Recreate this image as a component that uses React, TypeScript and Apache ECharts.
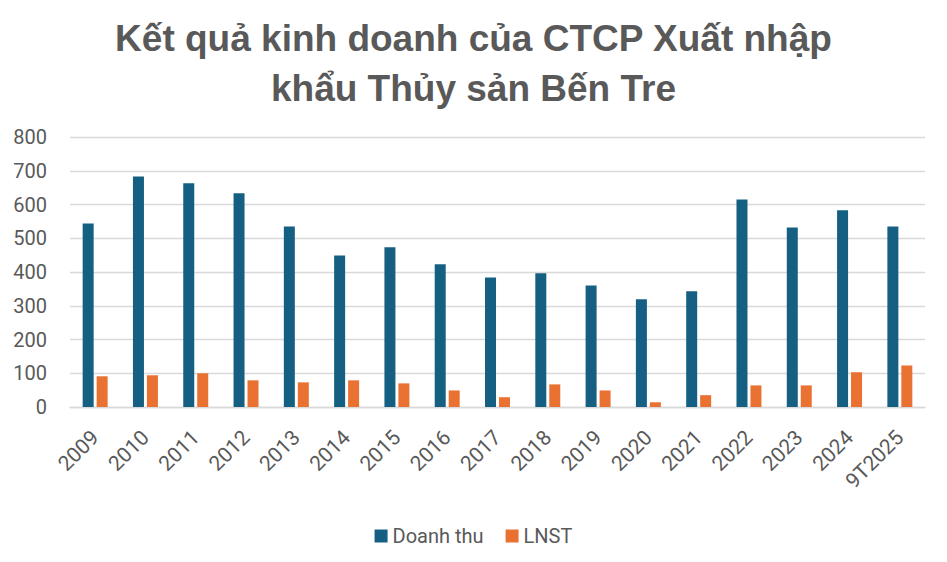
import React, { useEffect, useRef } from "react";
import * as echarts from "echarts";

const categories = ["2009","2010","2011","2012","2013","2014","2015","2016","2017","2018","2019","2020","2021","2022","2023","2024","9T2025"];
const doanhThu = [544, 683, 663, 633, 535, 449, 473, 423, 384, 396, 360, 319, 343, 615, 532, 583, 535];
const lnst = [91, 94, 100, 79, 73, 79, 70, 49, 29, 67, 49, 14, 35, 64, 64, 103, 123];
const titleText = "Kết quả kinh doanh của CTCP Xuất nhập\nkhẩu Thủy sản Bến Tre";

export default function App() {
  const ref = useRef<HTMLDivElement>(null);
  useEffect(() => {
    const chart = echarts.init(ref.current!, null, { renderer: "svg" });
    chart.setOption({
      animation: false,
      backgroundColor: "#ffffff",
      title: {
        text: titleText,
        left: "center",
        top: 13,
        padding: 0,
        textStyle: {
          fontFamily: "Liberation Sans",
          fontWeight: "bold",
          fontSize: 37,
          lineHeight: 50,
          color: "#595959",
        },
      },
      legend: {
        top: 521,
        left: "center",
        itemWidth: 13,
        itemHeight: 13,
        itemGap: 22,
        icon: "rect",
        textStyle: { fontFamily: "Roboto", fontSize: 20, color: "#595959" },
        data: ["Doanh thu", "LNST"],
      },
      grid: { left: 70, right: 22, top: 137, bottom: 155, containLabel: false },
      xAxis: {
        type: "category",
        data: categories,
        axisLine: { show: true, lineStyle: { color: "#d9d9d9", width: 1.3 } },
        axisTick: { show: false },
        axisLabel: {
          rotate: 45,
          margin: 27,
          interval: 0,
          fontFamily: "Roboto",
          fontSize: 21,
          color: "#595959",
        },
      },
      yAxis: {
        type: "value",
        min: 0,
        max: 800,
        interval: 100,
        axisLine: { show: false },
        axisTick: { show: false },
        axisLabel: { margin: 23, fontFamily: "Roboto", fontSize: 20, color: "#595959" },
        splitLine: { lineStyle: { color: "#d9d9d9", width: 1.3 } },
      },
      series: [
        {
          name: "Doanh thu",
          type: "bar",
          data: doanhThu,
          barWidth: 11,
          barGap: "27%",
          itemStyle: { color: "#156082" },
        },
        {
          name: "LNST",
          type: "bar",
          data: lnst,
          barWidth: 11,
          barGap: "27%",
          itemStyle: { color: "#E97132" },
        },
      ],
    });
    return () => chart.dispose();
  }, []);
  return (
    <div
      ref={ref}
      style={{ position: "absolute", left: 0, top: 0, width: 947, height: 562 }}
    />
  );
}
